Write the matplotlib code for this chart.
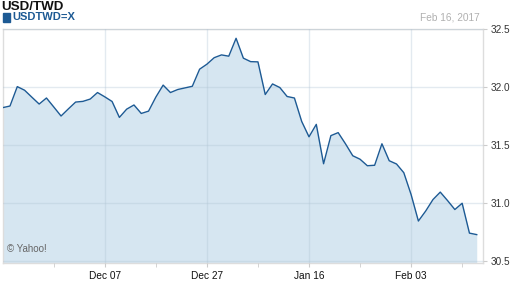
import numpy as np
import matplotlib.pyplot as plt
from matplotlib.ticker import FixedLocator

# trading-day index, Nov 17 2016 .. Feb 16 2017
rates = [31.823, 31.837, 32.004, 31.973, 31.913, 31.854, 31.906, 31.829, 31.751, 31.812,
         31.871, 31.877, 31.897, 31.953, 31.916, 31.876, 31.739, 31.810, 31.846, 31.773,
         31.793, 31.914, 32.017, 31.953, 31.979, 31.993, 32.007, 32.154, 32.197, 32.253,
         32.277, 32.266, 32.420, 32.249, 32.219, 32.217, 31.936, 32.027, 31.996, 31.919,
         31.906, 31.704, 31.572, 31.679, 31.340, 31.582, 31.608, 31.512, 31.409, 31.379,
         31.323, 31.327, 31.512, 31.366, 31.338, 31.263, 31.075, 30.847, 30.933, 31.032,
         31.096, 31.023, 30.946, 31.000, 30.743, 30.730]
days = np.arange(len(rates))

major_pos = [14, 28, 42, 56]
major_labels = ["Dec 07", "Dec 27", "Jan 16", "Feb 03"]
minor_pos = [7, 21, 35, 49, 63]
y_ticks = [30.5, 31.0, 31.5, 32.0, 32.5]

title = "USD/TWD"
symbol = "USDTWD=X"
date_str = "Feb 16, 2017"

plt.rcParams['font.family'] = ['Liberation Sans', 'DejaVu Sans']

line_c = '#1d5a94'
fig = plt.figure(figsize=(5.12, 2.88), dpi=100)
ax = fig.add_axes([2.7/512, 1-262.5/288, (483.3-2.7)/512, (262.5-29)/288])

ax.fill_between(days, rates, 30.0, color='#d6e6f1', lw=0, zorder=1)
ax.plot(days, rates, color=line_c, lw=1.0, zorder=3)

ax.set_xlim(0, 65.9)
ax.set_ylim(30.49, 32.5)

ax.xaxis.set_major_locator(FixedLocator(major_pos))
ax.set_xticklabels(major_labels)
ax.xaxis.set_minor_locator(FixedLocator(minor_pos))
ax.set_yticks(y_ticks)
ax.set_yticklabels([f"{v:.1f}" for v in y_ticks])
ax.yaxis.tick_right()

ax.grid(True, which='major', color='#b0c4d4', alpha=0.35, lw=1.0, zorder=2)
ax.set_axisbelow(False)

ax.tick_params(axis='x', which='major', length=3, color='#cccccc', labelsize=7.3,
               labelcolor='#111111', pad=3)
ax.tick_params(axis='x', which='minor', length=3, color='#cccccc')
ax.tick_params(axis='y', which='major', length=3, color='#cccccc', labelsize=7.2,
               labelcolor='#333333', pad=2)

for s in ax.spines.values():
    s.set_color('#dddddd')
    s.set_linewidth(1.0)

fig.text(1.5/512, 1-7.2/288, title, fontsize=9.6, fontweight='bold', color='#111111',
         va='center', ha='left')
fig.patches.append(plt.Rectangle((2.5/512, 1-21.5/288), 7/512, 8.5/288,
                                 transform=fig.transFigure, color=line_c, figure=fig))
fig.text(12/512, 1-17.5/288, symbol, fontsize=8, fontweight='bold', color=line_c,
         va='center', ha='left')
fig.text(480/512, 1-17.5/288, date_str, fontsize=7.3, color='#b0b0b0',
         va='center', ha='right')
ax.text(0.008, 0.035, "\u00a9 Yahoo!", transform=ax.transAxes, fontsize=7,
        color='#666666', va='bottom', ha='left', zorder=4)

fig.savefig('out.png', dpi=100)
